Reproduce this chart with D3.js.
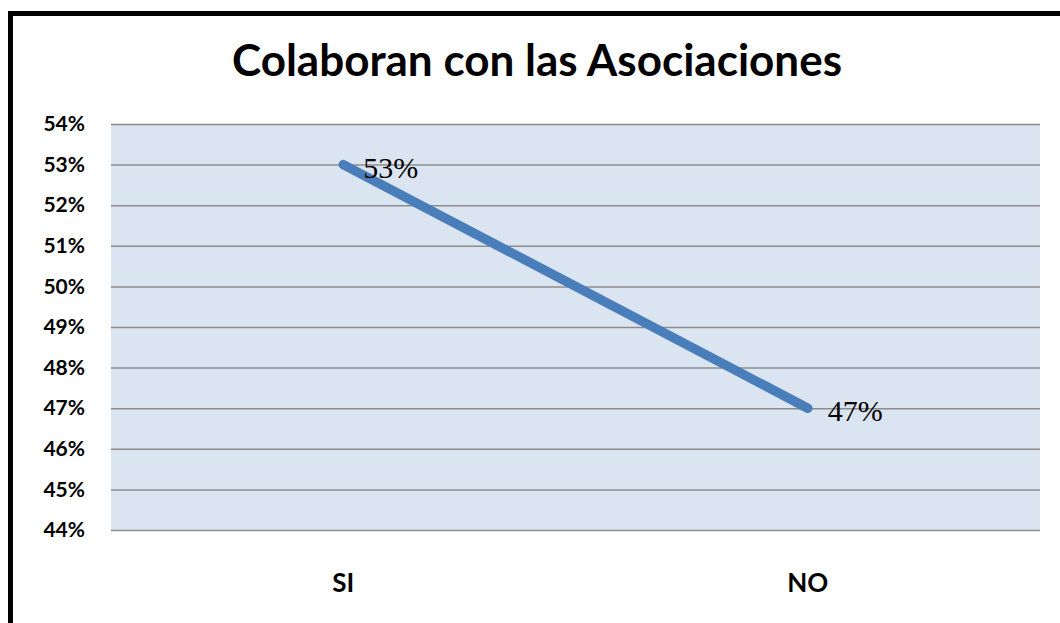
<!DOCTYPE html>
<html>
<head>
<meta charset="utf-8">
<script src="https://cdn.jsdelivr.net/npm/d3@7"></script>
<style>
  body { margin: 0; background: #fff; }
  .grid line { stroke: #8c8c8c; stroke-width: 1.5; }
  .grid path { display: none; }
  .y.axis path, .y.axis line, .x.axis path, .x.axis line { display: none; }
  .y.axis text { font-family: Lato, sans-serif; font-weight: bold; font-size: 21px; fill: #000; }
  .x.axis text { font-family: Lato, sans-serif; font-weight: bold; font-size: 26px; fill: #000; }
  .line { fill: none; stroke: #4A7EBB; stroke-width: 9.5; stroke-linecap: round; }
  .label { font-family: "Liberation Serif", "Times New Roman", serif; font-size: 30px; fill: #000; }
</style>
</head>
<body>
<div id="chart"></div>
<script>
var categories = ["SI", "NO"];
var values = [0.53, 0.47];
var yTicks = [0.44, 0.45, 0.46, 0.47, 0.48, 0.49, 0.50, 0.51, 0.52, 0.53, 0.54];
var title = "Colaboran con las Asociaciones";

var data = categories.map(function (c, i) { return { key: c, value: values[i] }; });

var W = 1060, H = 623;
var margin = { top: 124, right: 20, bottom: 93, left: 111 },
    width = W - margin.left - margin.right,
    height = H - margin.top - margin.bottom;

var svg0 = d3.select("#chart").append("svg")
    .attr("width", W)
    .attr("height", H);

// outer frame (only left and top visible in the cropped original)
svg0.append("rect")
    .attr("x", 10.5).attr("y", 13.5)
    .attr("width", W).attr("height", H)
    .attr("fill", "none")
    .attr("stroke", "#000")
    .attr("stroke-width", 5);

svg0.append("text")
    .attr("x", 537)
    .attr("y", 76)
    .attr("text-anchor", "middle")
    .style("font-family", "Lato, sans-serif")
    .style("font-weight", "bold")
    .style("font-size", "44px")
    .text(title);

var svg = svg0.append("g")
    .attr("transform", "translate(" + margin.left + "," + margin.top + ")");

var xScale = d3.scaleBand()
    .domain(categories)
    .range([0, width]);

var yScale = d3.scaleLinear()
    .domain([d3.min(yTicks), d3.max(yTicks)])
    .range([height, 0]);

svg.append("rect")
    .attr("width", width)
    .attr("height", height)
    .attr("fill", "#DBE5F1");

svg.append("g")
    .attr("class", "grid")
    .call(d3.axisLeft(yScale).tickValues(yTicks).tickSize(-width).tickFormat(""));

svg.append("g")
    .attr("class", "y axis")
    .attr("transform", "translate(-23,0)")
    .call(d3.axisLeft(yScale).tickValues(yTicks).tickSize(0).tickFormat(d3.format(".0%")));

svg.append("g")
    .attr("class", "x axis")
    .attr("transform", "translate(0," + height + ")")
    .call(d3.axisBottom(xScale).tickSize(0).tickPadding(44));

var line = d3.line()
    .x(function (d) { return xScale(d.key) + xScale.bandwidth() / 2; })
    .y(function (d) { return yScale(d.value); });

svg.append("path")
    .datum(data)
    .attr("class", "line")
    .attr("d", line);

svg.selectAll(".label")
    .data(data)
    .enter().append("text")
    .attr("class", "label")
    .attr("x", function (d) { return xScale(d.key) + xScale.bandwidth() / 2 + 20; })
    .attr("y", function (d) { return yScale(d.value) + 13; })
    .text(function (d) { return d3.format(".0%")(d.value); });
</script>
</body>
</html>
